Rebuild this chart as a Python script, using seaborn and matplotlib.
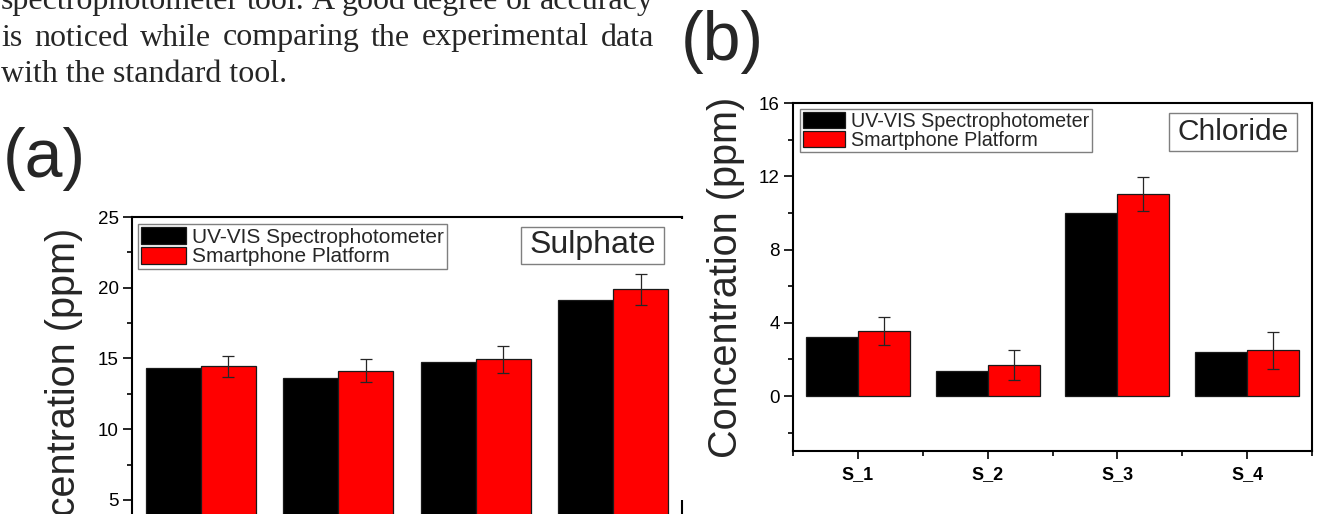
import matplotlib
matplotlib.use("Agg")
import matplotlib.pyplot as plt
from matplotlib.patches import Patch, Rectangle
from matplotlib.ticker import MultipleLocator, FixedLocator
import pandas as pd
import seaborn as sns

# ---- data -------------------------------------------------------------
samples = ["S_1", "S_2", "S_3", "S_4"]
methods = ["UV-VIS Spectrophotometer", "Smartphone Platform"]
colors = ["#000000", "#ff0000"]

sulphate_uvvis = [14.3, 13.6, 14.75, 19.15]
sulphate_phone = [14.45, 14.15, 14.95, 19.9]
sulphate_phone_err = [0.75, 0.8, 0.95, 1.1]

chloride_uvvis = [3.2, 1.35, 10.0, 2.4]
chloride_phone = [3.55, 1.7, 11.05, 2.5]
chloride_phone_err = [0.76, 0.83, 0.93, 1.0]

body_lines = [
    "spectrophotometer tool. A good degree of accuracy",
    "is noticed while comparing the experimental data",
    "with the standard tool.",
]

# ---- figure -------------------------------------------------------------
W, H = 1320, 514
sns.set_style("ticks")
plt.rcParams["font.family"] = ["Liberation Sans", "DejaVu Sans"]

fig = plt.figure(figsize=(W / 100, H / 100), dpi=100)
fig.patch.set_facecolor("white")
renderer = fig.canvas.get_renderer()


def px_rect(left, top, right, bottom):
    return [left / W, 1 - bottom / H, (right - left) / W, (bottom - top) / H]


def fx(x):
    return x / W


def fy(y):
    return 1 - y / H


def boxed_label(ax, xy, text, size, padx=8, pady=4):
    """Sample name in a thin grey frame, padded more at the sides."""
    t = ax.text(xy[0], xy[1], text, transform=ax.transAxes, ha="center",
                va="center", fontsize=size, zorder=6)
    bb = t.get_window_extent(renderer)
    inv = fig.transFigure.inverted()
    (x0, y0), (x1, y1) = inv.transform([(bb.x0 - padx, bb.y0 - pady),
                                        (bb.x1 + padx, bb.y1 + pady)])
    ax.add_patch(Rectangle((x0, y0), x1 - x0, y1 - y0,
                           transform=fig.transFigure, clip_on=False,
                           facecolor="white", edgecolor="#7f7f7f",
                           linewidth=1.0, zorder=5))


def draw_panel(ax, uv, phone, err, ylim, major, minor, name, name_xy,
               name_fs, name_pady, leg_fs, leg_anchor, labelpad):
    df = pd.DataFrame({
        "sample": samples * 2,
        "method": [methods[0]] * len(samples) + [methods[1]] * len(samples),
        "value": list(uv) + list(phone),
    })
    sns.barplot(data=df, x="sample", y="value", hue="method",
                hue_order=methods, order=samples, palette=colors,
                saturation=1, width=0.8, errorbar=None,
                edgecolor="#1a1a1a", linewidth=0.9, legend=False, ax=ax)

    # error bars on the smartphone bars, centred on the drawn bars
    red = ax.containers[1]
    xs = [p.get_x() + p.get_width() / 2 for p in red]
    ax.errorbar(xs, phone, yerr=err, fmt="none", ecolor="#262626",
                elinewidth=0.9, capsize=4, capthick=0.9, zorder=3)

    ax.set_xlim(-0.5, len(samples) - 0.5)
    ax.set_ylim(*ylim)
    ax.yaxis.set_major_locator(MultipleLocator(major))
    ax.yaxis.set_minor_locator(MultipleLocator(minor))
    ax.xaxis.set_minor_locator(
        FixedLocator([i - 0.5 for i in range(len(samples) + 1)]))

    ax.tick_params(axis="both", which="major", direction="out", length=6.5,
                   width=1.2, colors="black", labelsize=13.5, pad=3)
    ax.tick_params(axis="both", which="minor", direction="out", length=3.6,
                   width=1.2, colors="black")
    ax.tick_params(axis="x", which="major", length=6, pad=5, labelsize=13)
    ax.tick_params(top=False, right=False, which="both")
    plt.setp(ax.get_xticklabels(), fontweight="bold")

    for s in ax.spines.values():
        s.set_visible(True)
        s.set_linewidth(1.5)
        s.set_color("black")

    ax.set_xlabel("")
    ax.set_ylabel("Concentration (ppm)", fontsize=28.5, labelpad=labelpad)

    handles = [Patch(facecolor=c, edgecolor="#1a1a1a", linewidth=0.9)
               for c in colors]
    leg = ax.legend(handles, methods, loc="upper left",
                    bbox_to_anchor=leg_anchor, fontsize=leg_fs,
                    frameon=True, fancybox=False, edgecolor="#7f7f7f",
                    framealpha=1, handlelength=2.15, handleheight=0.9,
                    handletextpad=0.3, labelspacing=0.0, borderpad=0.14,
                    borderaxespad=0)
    leg.get_frame().set_linewidth(1.0)
    leg.set_zorder(6)

    boxed_label(ax, name_xy, name, name_fs, pady=name_pady)


# panel (a): sulphate, runs past the lower edge of the page
ax_a = fig.add_axes(px_rect(132, 217, 682, 599))
draw_panel(ax_a, sulphate_uvvis, sulphate_phone, sulphate_phone_err,
           ylim=(-2, 25), major=5, minor=2.5, name="Sulphate",
           name_xy=(0.837, 0.926), name_fs=23, name_pady=3.5, leg_fs=15,
           leg_anchor=(0.011, 0.982), labelpad=11)

# panel (b) sits on its own white sheet over the right edge of (a)
sheet = Rectangle((fx(680), fy(500)), 1 - fx(680), fy(218.5) - fy(500),
                  transform=fig.transFigure, facecolor="white",
                  edgecolor="none", zorder=1)
fig.add_artist(sheet)

ax_b = fig.add_axes(px_rect(793, 103, 1312, 451))
ax_b.set_zorder(2)
draw_panel(ax_b, chloride_uvvis, chloride_phone, chloride_phone_err,
           ylim=(-3, 16), major=4, minor=2, name="Chloride",
           name_xy=(0.848, 0.918), name_fs=21.5, name_pady=5, leg_fs=14.2,
           leg_anchor=(0.0135, 0.983), labelpad=10)

# ---- surrounding page text ---------------------------------------------
serif = ["Liberation Serif", "DejaVu Serif"]


def justified(words, x0, x1, y, size):
    arts = [fig.text(0, fy(y), w, fontsize=size, family=serif,
                     va="baseline", ha="left", zorder=3) for w in words]
    widths = [a.get_window_extent(renderer).width for a in arts]
    gap = (x1 - x0 - sum(widths)) / max(len(words) - 1, 1)
    x = x0
    for a, w in zip(arts, widths):
        a.set_x(fx(x))
        x += w + gap


justified(body_lines[0].split(), 1, 654, 9, 23)
justified(body_lines[1].split(), 1, 654, 45.5, 23)
fig.text(fx(1), fy(82), body_lines[2], fontsize=23, family=serif,
         va="baseline", ha="left", zorder=3)

fig.text(fx(3), fy(177), "(a)", fontsize=49, va="baseline", ha="left",
         zorder=3)
fig.text(fx(681), fy(60), "(b)", fontsize=49, va="baseline", ha="left",
         zorder=3)

fig.savefig("out.png", dpi=100, facecolor="white")
